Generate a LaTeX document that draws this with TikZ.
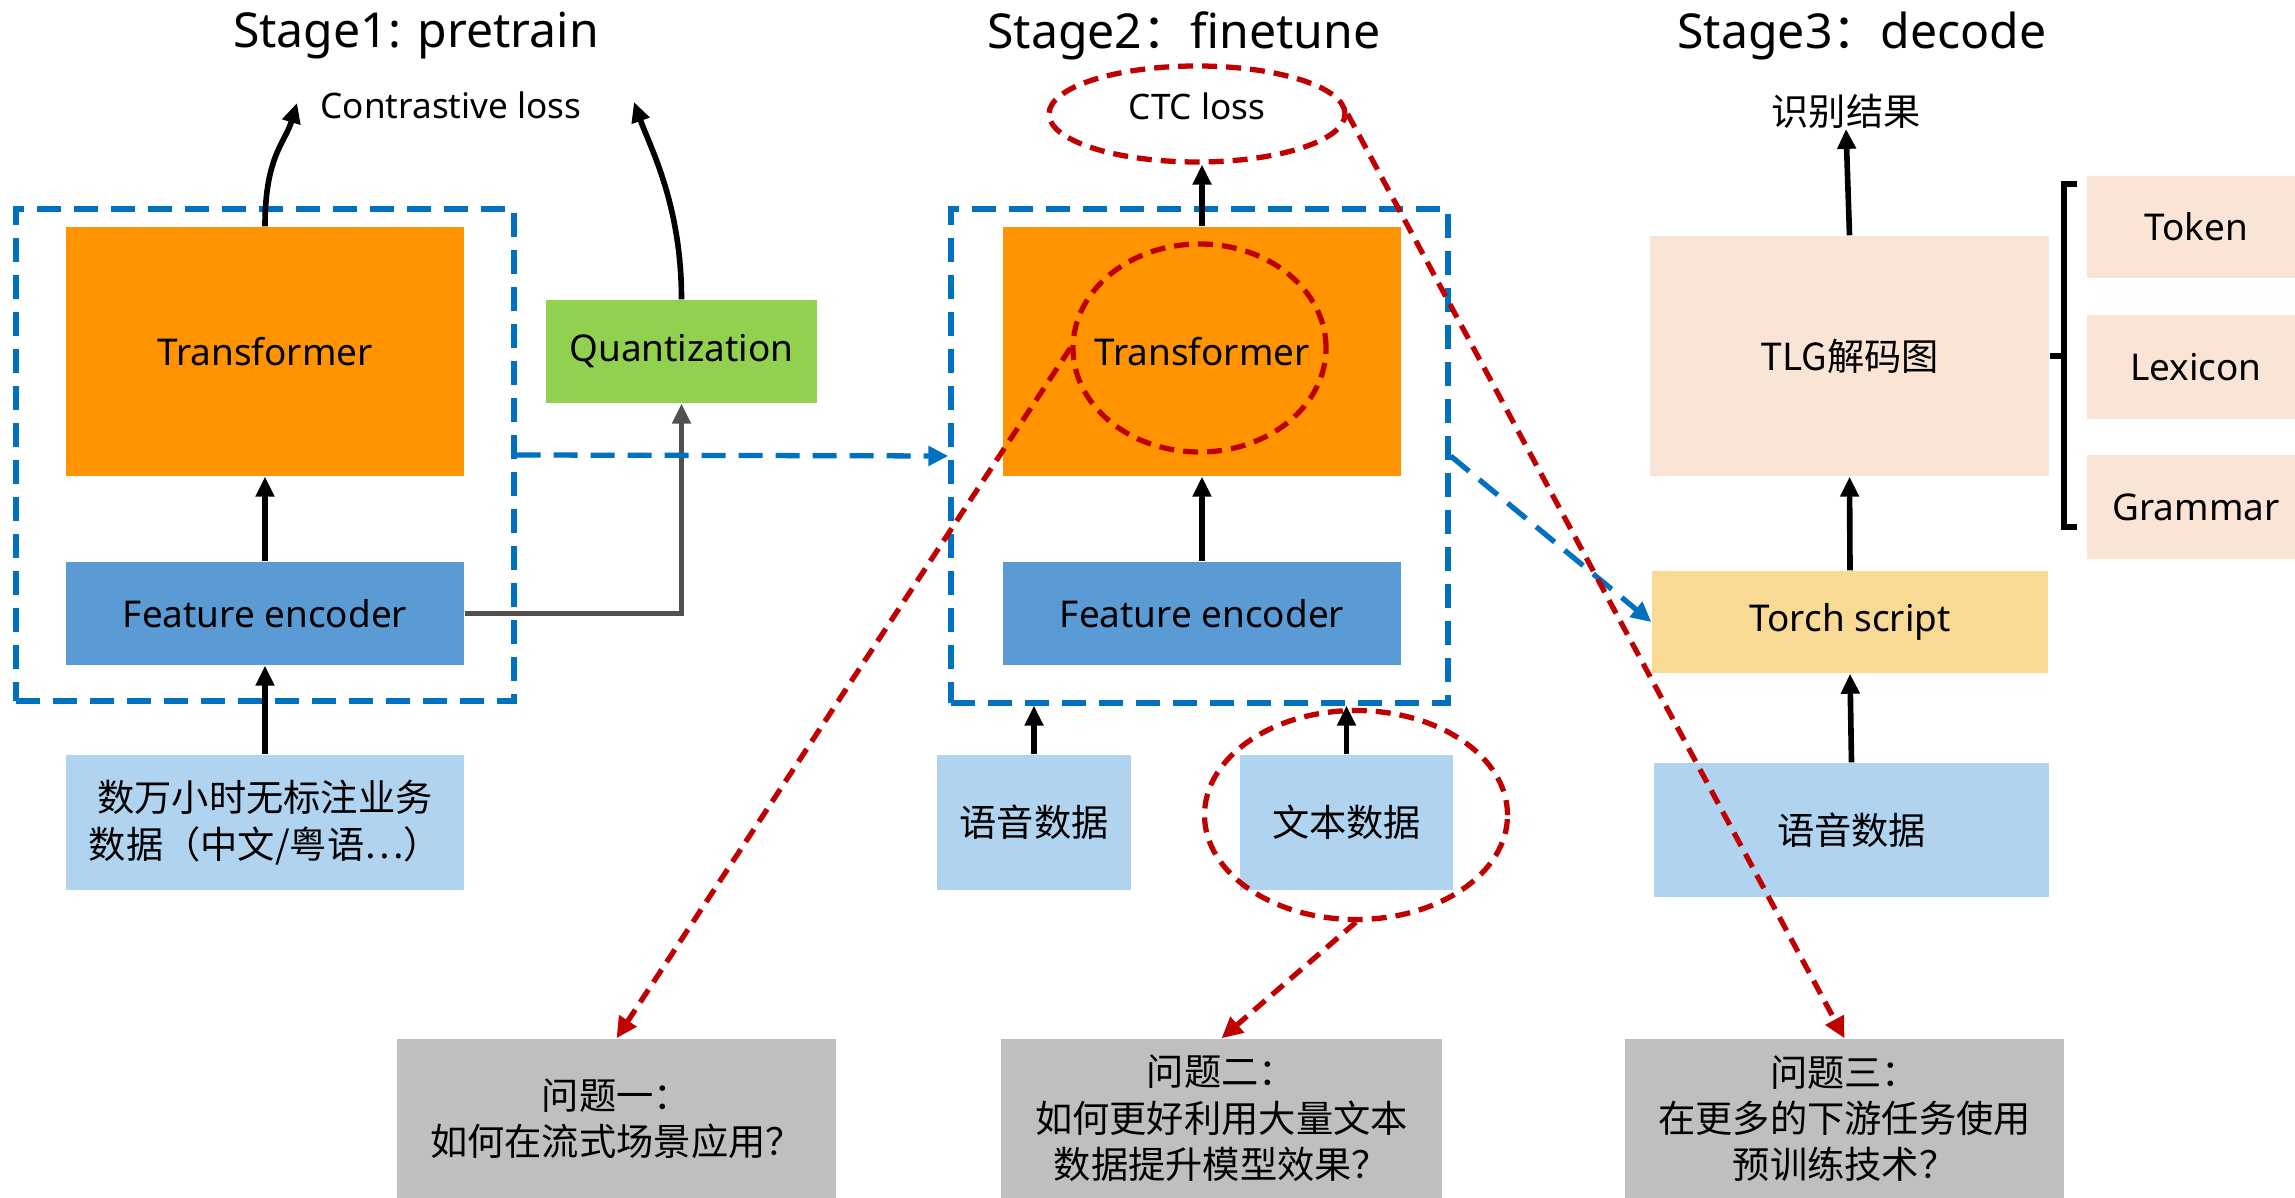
\documentclass[tikz,border=0pt]{standalone}
\usepackage{fontspec}
\setmainfont{Noto Sans}
\newfontfamily\cjk{Noto Sans CJK SC}
\usetikzlibrary{arrows.meta,shapes.geometric}

\definecolor{tfOrange}{RGB}{255,147,0}
\definecolor{encBlue}{RGB}{91,155,213}
\definecolor{dataBlue}{RGB}{176,212,240}
\definecolor{quantGreen}{RGB}{146,208,80}
\definecolor{peach}{RGB}{250,228,214}
\definecolor{torchYellow}{RGB}{248,218,148}
\definecolor{qGray}{RGB}{191,191,191}
\definecolor{frameBlue}{RGB}{0,112,192}
\definecolor{markRed}{RGB}{192,0,0}
\definecolor{linkGray}{RGB}{80,80,80}

\tikzset{
  box/.style={rectangle, inner sep=0pt, align=center,
    font=\fontsize{10.5}{12.8}\selectfont},
  cbox/.style={box, font=\cjk\fontsize{10.6}{13.2}\selectfont},
  title/.style={inner sep=0pt, font=\fontsize{13.7}{16}\selectfont},
  frame/.style={rectangle, inner sep=0pt, draw=frameBlue, line width=1.5pt,
    dash pattern=on 2.4mm off 1.3mm},
  flow/.style={line width=1.6pt, -{Triangle[length=2mm,width=1.8mm]}},
  bluelink/.style={draw=frameBlue, line width=1.5pt, dash pattern=on 2.4mm off 1.3mm,
    -{Triangle[length=2mm,width=1.9mm]}},
  redlink/.style={draw=markRed, line width=1.5pt, dash pattern=on 1.5mm off 0.9mm,
    -{Triangle[length=2.1mm,width=2mm]}},
  redring/.style={ellipse, inner sep=0pt, draw=markRed, line width=1.5pt,
    dash pattern=on 1.5mm off 0.9mm},
}

\begin{document}
\begin{tikzpicture}[x=0.1mm,y=-0.1mm]
\useasboundingbox (0,0) rectangle (2295,1198);

% ---------- titles ----------
\node[title] (t1) at (416,36) {Stage1: pretrain};
\node[title] (t2) at (1184,36) {Stage2{\cjk ：}finetune};
\node[title] (t3) at (1862,36) {Stage3{\cjk ：}decode};

% ---------- stage 1: pretrain ----------
\node[frame, minimum width=49.8mm, minimum height=49.2mm] (s1box) at (265,455) {};
\node[box, fill=tfOrange, minimum width=39.8mm, minimum height=24.9mm] (tf1) at (265,351.5) {Transformer};
\node[box, fill=encBlue, minimum width=39.8mm, minimum height=10.3mm] (fe1) at (265,613.5) {Feature encoder};
\node[cbox, fill=dataBlue, minimum width=39.8mm, minimum height=13.5mm] (data1) at (265,822.5)
  {数万小时无标注业务\\数据（中文/粤语…）};
\node[box, fill=quantGreen, minimum width=27.1mm, minimum height=10.3mm] (quant) at (681.5,351.5) {Quantization};
\node[box, font=\fontsize{10}{12}\selectfont] (closs) at (451,105) {Contrastive loss};
\coordinate (cl1) at (297,103);
\coordinate (cl2) at (634,102);

\draw[flow] (tf1.north) .. controls +(0,-70) and +(-12,40) .. (cl1);
\draw[flow] (quant.north) .. controls +(0,-95) and +(16,45) .. (cl2);
\draw[flow] (fe1.north) -- (tf1.south);
\draw[flow] (data1.north) -- (fe1.south);
\draw[flow, draw=linkGray] (fe1.east) -| (quant.south);

% ---------- stage 2: finetune ----------
\node[frame, minimum width=49.7mm, minimum height=49.4mm] (s2box) at (1199.5,456) {};
\node[box, fill=tfOrange, minimum width=39.8mm, minimum height=24.9mm] (tf2) at (1202,351.5) {Transformer};
\node[box, fill=encBlue, minimum width=39.8mm, minimum height=10.3mm] (fe2) at (1202,613.5) {Feature encoder};
\node[cbox, fill=dataBlue, minimum width=19.4mm, minimum height=13.5mm] (sp2) at (1034,822.5) {语音数据};
\node[cbox, fill=dataBlue, minimum width=21.3mm, minimum height=13.5mm] (tx2) at (1346.5,822.5) {文本数据};
\node[redring, minimum width=29.6mm, minimum height=9.6mm] (ctc) at (1197,114) {};
\node[box, font=\fontsize{10}{12}\selectfont] (ctclabel) at (1197,106) {CTC loss};
\node[redring, minimum width=25.3mm, minimum height=20.8mm] (tfring) at (1199.5,348) {};
\node[redring, minimum width=30.3mm, minimum height=20.9mm] (txring) at (1356,815) {};

\draw[flow] (tf2.north) -- (tf2.north |- ctc.south);
\draw[flow] (fe2.north) -- (tf2.south);
\draw[flow] (sp2.north) -- (sp2.north |- s2box.south);
\draw[flow] (tx2.north) -- (tx2.north |- s2box.south);

\draw[bluelink] (s1box.east) -- (s2box.west);

% ---------- stage 3: decode ----------
\node[cbox] (res) at (1846,111) {识别结果};
\node[cbox, fill=peach, minimum width=39.9mm, minimum height=24mm] (tlg) at (1849.5,356) {TLG解码图};
\node[box, fill=torchYellow, minimum width=39.6mm, minimum height=10.2mm] (torch) at (1850,622) {Torch script};
\node[cbox, fill=dataBlue, minimum width=39.5mm, minimum height=13.4mm] (sp3) at (1851.5,830) {语音数据};
\node[box, fill=peach, minimum width=21.8mm, minimum height=10.2mm] (token) at (2196,227) {Token};
\node[box, fill=peach, minimum width=21.8mm, minimum height=10.4mm] (lex) at (2196,367) {Lexicon};
\node[box, fill=peach, minimum width=21.8mm, minimum height=10.4mm] (gram) at (2196,507) {Grammar};

\draw[line width=1.5pt] (2077,184) -- (2064,184) -- (2064,527) -- (2077,527);
\draw[line width=1.5pt] (tlg.east) -- (2064,356);

\draw[flow] (tlg.north) -- (res.south);
\draw[flow] (torch.north) -- (tlg.south);
\draw[flow] (sp3.north) -- (torch.south);

\draw[bluelink] (s2box.east) -- (torch.west);

% ---------- open questions ----------
\node[cbox, fill=qGray, minimum width=43.9mm, minimum height=15.9mm] (q1) at (616.5,1118.5)
  {问题一：\\如何在流式场景应用？};
\node[cbox, fill=qGray, minimum width=44.1mm, minimum height=15.9mm] (q2) at (1221.5,1118.5)
  {问题二：\\如何更好利用大量文本\\数据提升模型效果？};
\node[cbox, fill=qGray, minimum width=43.9mm, minimum height=15.9mm] (q3) at (1844.5,1118.5)
  {问题三：\\在更多的下游任务使用\\预训练技术？};

\draw[redlink] (tfring.west) -- (q1.north);
\draw[redlink] (txring.south) -- (q2.north);
\draw[redlink] (ctc.east) -- (q3.north);
\end{tikzpicture}
\end{document}
